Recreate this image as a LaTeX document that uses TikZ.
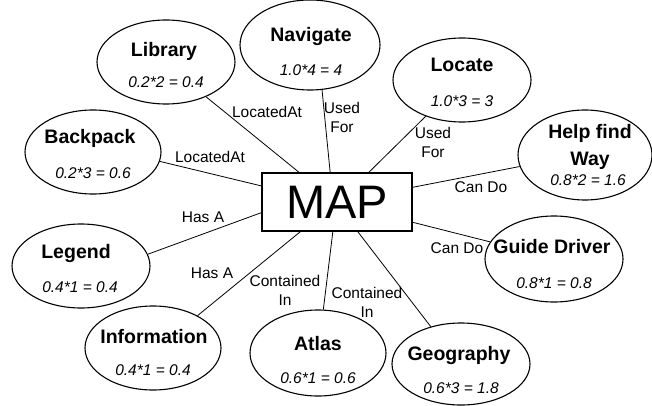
\documentclass[tikz,border=0pt]{standalone}
\usepackage{fontspec}
\setmainfont{Liberation Sans}
\usetikzlibrary{shapes.geometric}
\begin{document}
\begin{tikzpicture}[x=1pt,y=-1pt,
  bubble/.style={draw, ellipse, line width=1.1pt, inner sep=0pt},
  title/.style={font=\fontsize{19.5}{27}\selectfont\bfseries, inner sep=0pt, align=center},
  value/.style={font=\fontsize{15.5}{18}\selectfont\itshape, inner sep=0pt, anchor=base},
  rel/.style={font=\fontsize{15.5}{19}\selectfont, align=center, inner sep=0pt},
  link/.style={draw, line width=0.8pt}]
\useasboundingbox (0,0) rectangle (652,406);

% central box
\node[draw, line width=1.3pt, minimum width=150pt, minimum height=58pt, inner sep=0pt,
      font=\fontsize{47}{50}\selectfont] (map) at (337,202) {MAP};

% ellipses
\node[bubble, minimum width=138pt, minimum height=84pt] (lib) at (166,62) {};
\node[bubble, minimum width=140pt, minimum height=90pt] (nav) at (310,45) {};
\node[bubble, minimum width=138pt, minimum height=84pt] (loc) at (462,80) {};
\node[bubble, minimum width=134pt, minimum height=90pt] (hfw) at (585,155) {};
\node[bubble, minimum width=136pt, minimum height=84pt] (bag) at (93,152) {};
\node[bubble, minimum width=138pt, minimum height=84pt] (leg) at (81,266) {};
\node[bubble, minimum width=136pt, minimum height=84pt] (inf) at (153,348) {};
\node[bubble, minimum width=136pt, minimum height=86pt] (atl) at (318,353) {};
\node[bubble, minimum width=138pt, minimum height=82pt] (geo) at (461,364) {};
\node[bubble, minimum width=138pt, minimum height=86pt] (gdr) at (554,259) {};

% titles
\node[title, anchor=base] (libT) at (164,57) {Library};
\node[title, anchor=base] (navT) at (311,42) {Navigate};
\node[title, anchor=base] (locT) at (462,72) {Locate};
\node[title] (hfwT) at (590,147) {Help find\\Way};
\node[title, anchor=base] (bagT) at (90,143) {Backpack};
\node[title, anchor=base] (legT) at (76,258) {Legend};
\node[title, anchor=base] (infT) at (154,343) {Information};
\node[title, anchor=base] (atlT) at (318,350) {Atlas};
\node[title, anchor=base] (geoT) at (459,360) {Geography};
\node[title, anchor=base] (gdrT) at (552,253) {Guide Driver};

% values
\node[value] (libV) at (166,88) {0.2*2 = 0.4};
\node[value] (navV) at (311,76) {1.0*4 = 4};
\node[value] (locV) at (462,107) {1.0*3 = 3};
\node[value] (hfwV) at (588,185) {0.8*2 = 1.6};
\node[value] (bagV) at (93,178) {0.2*3 = 0.6};
\node[value] (legV) at (80,292) {0.4*1 = 0.4};
\node[value] (infV) at (153,375) {0.4*1 = 0.4};
\node[value] (atlV) at (318,383) {0.6*1 = 0.6};
\node[value] (geoV) at (461,393) {0.6*3 = 1.8};
\node[value] (gdrV) at (554,288) {0.8*1 = 0.8};

% connectors
\draw[link] (lib.-41) -- (map.142);
\draw[link] (bag.-8) -- (map.168.7);
\draw[link] (nav.-75.7) -- (map.103.6);
\draw[link] (loc.-135) -- (map.43);
\draw[link] (hfw.190.6) -- (map.11.3);
\draw[link] (gdr.165) -- (map.-15);
\draw[link] (leg.10) -- (map.188.3);
\draw[link] (inf.36) -- (map.219);
\draw[link] (atl.83) -- (map.262.4);
\draw[link] (geo.129) -- (map.-55);

% relation labels
\node[rel, anchor=base] (r1) at (267,118) {LocatedAt};
\node[rel, anchor=base] (r2) at (210,162) {LocatedAt};
\node[rel] (r3) at (342,117) {Used\\For};
\node[rel] (r4) at (433,142) {Used\\For};
\node[rel, anchor=base] (r5) at (481,192) {Can Do};
\node[rel, anchor=base] (r6) at (457,253) {Can Do};
\node[rel, anchor=base] (r7) at (203,222) {Has A};
\node[rel, anchor=base] (r8) at (212,278) {Has A};
\node[rel] (r9) at (285,290) {Contained\\In};
\node[rel] (r10) at (367,302) {Contained\\In};
\end{tikzpicture}
\end{document}
